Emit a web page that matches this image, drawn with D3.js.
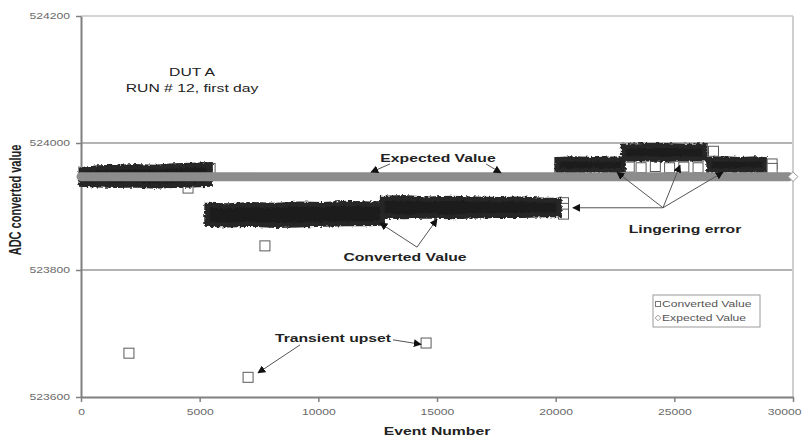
<!DOCTYPE html>
<html>
<head>
<meta charset="utf-8">
<script src="https://cdn.jsdelivr.net/npm/d3@7"></script>
<style>
  html, body { margin: 0; padding: 0; background: #fff; }
  svg { display: block; font-family: Arial, "Liberation Sans", sans-serif; }
</style>
</head>
<body>
<svg id="chart" width="802" height="441"></svg>
<script>
// ---- axis ticks ----
const xTicks = [0, 5000, 10000, 15000, 20000, 25000, 30000];
const yTicks = [523600, 523800, 524000, 524200];

// ---- expected ADC value over the run ----
const expectedEvents = [0, 30000];
const expectedValues = [523947, 523947];

// ---- dense runs of converted values (event, upper and lower spread) ----
const run1Events = [0, 700, 1500, 2300, 3100, 3900, 4700, 5450];
const run1High   = [523958, 523961, 523962, 523963, 523962, 523964, 523965, 523966];
const run1Low    = [523935, 523934, 523933, 523934, 523932, 523933, 523934, 523935];

const run2Events = [5300, 6200, 7200, 8200, 9200, 10200, 11200, 12200, 12700];
const run2High   = [523902, 523901, 523903, 523902, 523904, 523903, 523905, 523904, 523905];
const run2Low    = [523872, 523871, 523872, 523870, 523871, 523872, 523873, 523873, 523874];

const run3Events = [12700, 13600, 14600, 15600, 16600, 17600, 18600, 19600, 20150];
const run3High   = [523913, 523914, 523912, 523913, 523912, 523911, 523912, 523910, 523910];
const run3Low    = [523885, 523884, 523885, 523884, 523885, 523886, 523886, 523887, 523887];

const run4Events = [20050, 20800, 21600, 22400, 22850];
const run4High   = [523974, 523975, 523974, 523975, 523975];
const run4Low    = [523957, 523956, 523957, 523956, 523957];

const run5Events = [22850, 23700, 24600, 25500, 26300];
const run5High   = [523995, 523996, 523996, 523995, 523996];
const run5Low    = [523975, 523975, 523974, 523975, 523975];

const run6Events = [26450, 27100, 27800, 28500, 28800];
const run6High   = [523974, 523975, 523974, 523975, 523974];
const run6Low    = [523957, 523956, 523957, 523957, 523957];

// ---- individual converted values (upsets and run edges) ----
const pointEvents = [2020, 4510, 7040, 7750, 14540, 5440, 20330, 20330, 20330,
                     23100, 23600, 24200, 24800, 25400, 26000, 26650, 29120, 29120];
const pointValues = [523669, 523929, 523631, 523838, 523685, 523960, 523906, 523897, 523888,
                     523962, 523961, 523963, 523961, 523962, 523961, 523987, 523967, 523960];

const seriesNames = ["Converted Value", "Expected Value"];

// ---------------------------------------------------------------
const SX = 1.43; // horizontal stretch of all lettering
const svg = d3.select("#chart");

const x = d3.scaleLinear().domain([0, 30000]).range([81, 793]);
const y = d3.scaleLinear().domain([523600, 524200]).range([397, 16]);

const defs = svg.append("defs");
defs.append("marker")
  .attr("id", "arrow")
  .attr("viewBox", "0 0 10 10")
  .attr("refX", 9).attr("refY", 5)
  .attr("markerUnits", "userSpaceOnUse")
  .attr("markerWidth", 8).attr("markerHeight", 8)
  .attr("orient", "auto")
  .append("path").attr("d", "M0,0 L10,5 L0,10 z").attr("fill", "#111");

// ragged outline for the dense clouds of overlapping markers
const rough = defs.append("filter").attr("id", "rough")
  .attr("x", "-5%").attr("y", "-30%").attr("width", "110%").attr("height", "160%");
rough.append("feTurbulence").attr("type", "fractalNoise")
  .attr("baseFrequency", "0.35 0.5").attr("numOctaves", 2).attr("seed", 7).attr("result", "n");
rough.append("feDisplacementMap").attr("in", "SourceGraphic").attr("in2", "n")
  .attr("scale", 4).attr("xChannelSelector", "R").attr("yChannelSelector", "G");

function label(g, px, py, str, o = {}) {
  return g.append("text")
    .attr("transform", `translate(${px},${py}) scale(${SX},1)`)
    .attr("text-anchor", o.anchor || "middle")
    .attr("dy", "0.35em")
    .attr("font-size", o.size || 11)
    .attr("font-weight", o.weight || "bold")
    .attr("fill", o.fill || "#222")
    .text(str);
}

// ---- gridlines and plot frame ----
const grid = svg.append("g");
grid.selectAll("line.h")
  .data(yTicks.slice(1))
  .join("line")
  .attr("x1", x(0)).attr("x2", x(30000))
  .attr("y1", d => y(d)).attr("y2", d => y(d))
  .attr("stroke", d => d === 524200 ? "#d4d4d4" : "#9a9a9a")
  .attr("stroke-width", d => d === 524200 ? 2 : 1.3);
grid.append("line")
  .attr("x1", x(30000)).attr("x2", x(30000))
  .attr("y1", y(524200)).attr("y2", y(523600))
  .attr("stroke", "#cfcfcf").attr("stroke-width", 2);

// ---- axes ----
const xAxis = svg.append("g")
  .attr("transform", `translate(0,${y(523600)})`)
  .call(d3.axisBottom(x).tickValues(xTicks).tickFormat(d3.format("d"))
    .tickSize(5).tickSizeOuter(0).tickPadding(7));
const yAxis = svg.append("g")
  .attr("transform", `translate(${x(0)},0)`)
  .call(d3.axisLeft(y).tickValues(yTicks).tickFormat(d3.format("d"))
    .tickSize(5).tickSizeOuter(0).tickPadding(6));

[xAxis, yAxis].forEach(a => {
  a.select(".domain").attr("stroke", "#808080").attr("stroke-width", 2);
  a.selectAll(".tick line").attr("stroke", "#808080").attr("stroke-width", 1.5);
  a.selectAll(".tick text")
    .attr("fill", "#6a6a6a")
    .attr("font-size", 8.5)
    .attr("font-family", "Arial, 'Liberation Sans', sans-serif")
    .each(function () {
      const t = d3.select(this);
      const tx = +t.attr("x") || 0, ty = +t.attr("y") || 0;
      t.attr("x", 0).attr("y", 0)
       .attr("transform", `translate(${tx},${ty}) scale(${SX},1)`);
    });
});
// the last category label sits at the right edge of the page
xAxis.selectAll(".tick text").filter(d => d === 30000)
  .attr("text-anchor", "end")
  .attr("transform", function () {
    return this.getAttribute("transform").replace(/translate\(([^,]+),/, "translate(8,");
  });

// ---- converted value runs ----
const runs = [
  [run1Events, run1High, run1Low],
  [run2Events, run2High, run2Low],
  [run3Events, run3High, run3Low],
  [run4Events, run4High, run4Low],
  [run5Events, run5High, run5Low],
  [run6Events, run6High, run6Low]
].map(([ev, hi, lo]) => ev.map((e, i) => ({ e, hi: hi[i], lo: lo[i] })));

const points = pointEvents.map((e, i) => ({ e, v: pointValues[i] }));
// points lying inside a run are overdrawn by the later values of that run
const inside = p => runs.some(r => p.e > r[0].e && p.e < r[r.length - 1].e - 300);

const area = d3.area()
  .x(d => x(d.e)).y0(d => y(d.lo)).y1(d => y(d.hi))
  .curve(d3.curveLinear);

const SQ = 10;
function drawPoints(list) {
  svg.append("g").selectAll("rect")
    .data(list)
    .join("rect")
    .attr("x", d => x(d.e) - SQ / 2).attr("y", d => y(d.v) - SQ / 2)
    .attr("width", SQ).attr("height", SQ)
    .attr("fill", "#fff").attr("stroke", "#5a5a5a").attr("stroke-width", 1);
}

drawPoints(points.filter(inside));

svg.append("g").attr("filter", "url(#rough)")
  .selectAll("path")
  .data(runs)
  .join("path")
  .attr("d", area)
  .attr("fill", "#1f1f1f")
  .attr("stroke", "#262626")
  .attr("stroke-width", 5)
  .attr("stroke-linejoin", "miter");

drawPoints(points.filter(p => !inside(p)));

// ---- expected value band ----
const expPts = expectedEvents.map((e, i) => ({ e, v: expectedValues[i] }));
svg.append("line")
  .attr("x1", x(expPts[0].e)).attr("x2", x(expPts[1].e) - 4)
  .attr("y1", y(expPts[0].v)).attr("y2", y(expPts[1].v))
  .attr("stroke", "#8c8c8c").attr("stroke-width", 9)
  .attr("stroke-linecap", "round");
const lastExp = expPts[expPts.length - 1];
svg.append("path")
  .attr("d", d3.symbol(d3.symbolDiamond2, 60)())
  .attr("transform", `translate(${x(lastExp.e)},${y(lastExp.v)})`)
  .attr("fill", "#fff").attr("stroke", "#999").attr("stroke-width", 1);

// ---- annotations ----
const ann = svg.append("g");
function arrow(e1, v1, e2, v2) {
  ann.append("line")
    .attr("x1", x(e1)).attr("y1", y(v1)).attr("x2", x(e2)).attr("y2", y(v2))
    .attr("stroke", "#555").attr("stroke-width", 1)
    .attr("marker-end", "url(#arrow)");
}

label(ann, x(4680), y(524112), "DUT A", { weight: "normal" });
label(ann, x(4680), y(524087), "RUN # 12, first day", { weight: "normal" });

label(ann, x(15043), y(523976), "Expected Value");
arrow(13020, 523967, 12219, 523954);
arrow(17065, 523967, 17697, 523953);

label(ann, x(13652), y(523820), "Converted Value");
arrow(14157, 523836, 12598, 523874);
arrow(14157, 523836, 15000, 523880);

label(ann, x(25450), y(523865), "Lingering error");
arrow(24523, 523898, 22585, 523954);
arrow(24523, 523898, 25240, 523965);
arrow(24523, 523898, 27050, 523954);
arrow(24523, 523898, 20730, 523898);

label(ann, x(10618), y(523693), "Transient upset");
arrow(9228, 523682, 7458, 523638);
arrow(13146, 523690, 14326, 523683);

// ---- axis titles ----
label(svg, x(15000), 431, "Event Number");
svg.append("text")
  .attr("transform", `translate(15,200) rotate(-90) scale(1,${SX})`)
  .attr("text-anchor", "middle").attr("dy", "0.35em")
  .attr("font-size", 11).attr("font-weight", "bold").attr("fill", "#222")
  .text("ADC converted value");

// ---- legend ----
const lg = svg.append("g").attr("transform", "translate(653,295)");
lg.append("rect").attr("width", 107).attr("height", 32)
  .attr("fill", "#fff").attr("stroke", "#9a9a9a").attr("stroke-width", 1);
lg.append("rect").attr("x", 2.5).attr("y", 6.5).attr("width", 5).attr("height", 5)
  .attr("fill", "#fff").attr("stroke", "#777");
lg.append("path").attr("d", d3.symbol(d3.symbolDiamond2, 20)())
  .attr("transform", "translate(5,23)")
  .attr("fill", "#fff").attr("stroke", "#999");
seriesNames.forEach((n, i) =>
  label(lg, 9, 9 + i * 14, n, { anchor: "start", size: 8.5, weight: "normal", fill: "#555" }));
</script>
</body>
</html>
